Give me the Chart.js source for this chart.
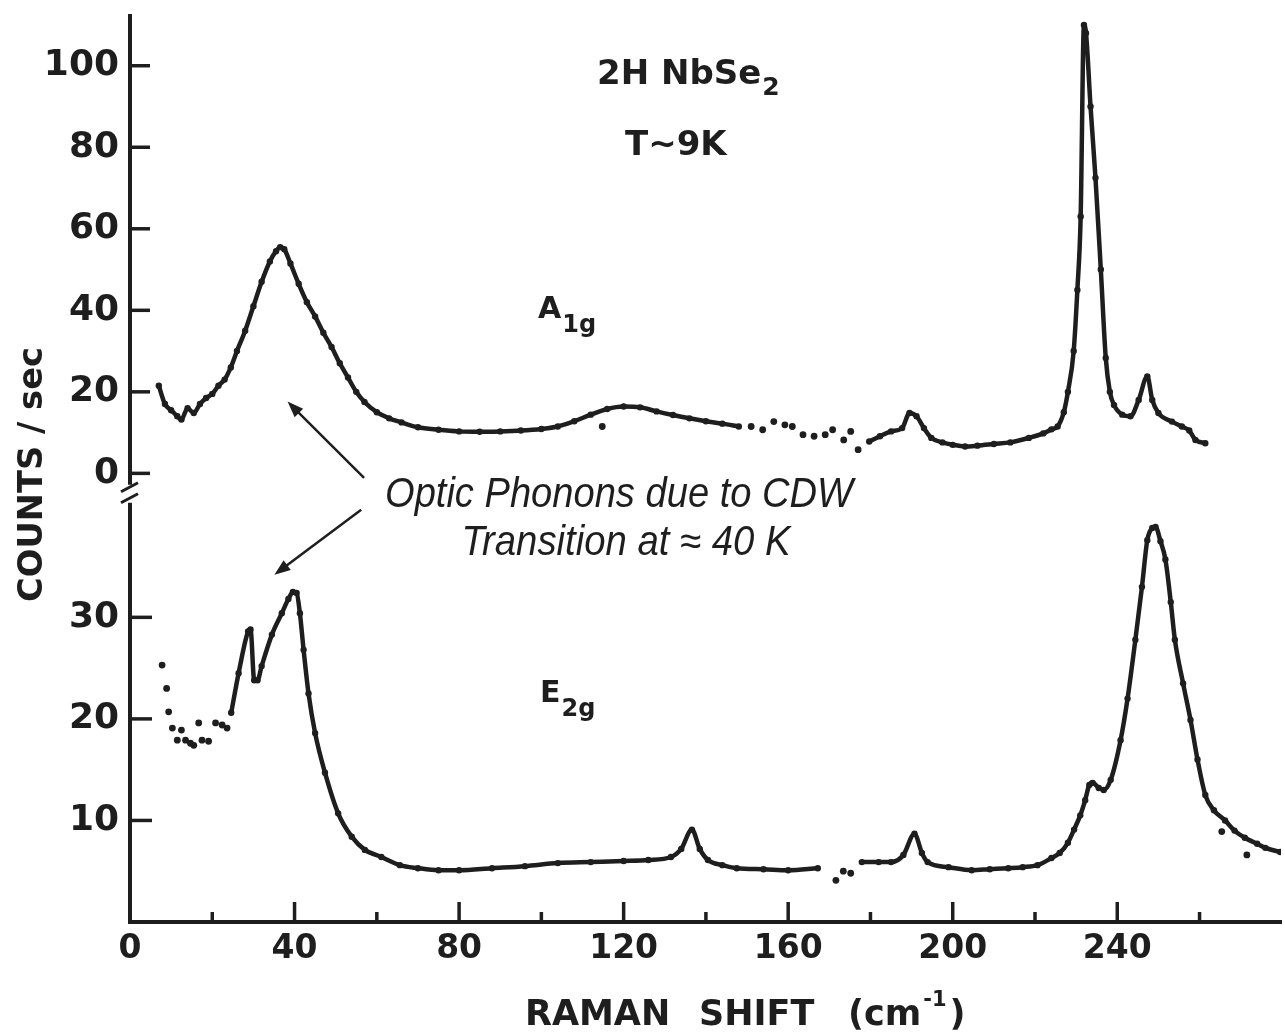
<!DOCTYPE html>
<html><head><meta charset="utf-8">
<script src="https://cdn.jsdelivr.net/npm/chart.js@4.4.1/dist/chart.umd.min.js"></script>
<style>html,body{margin:0;padding:0;background:#fff;overflow:hidden}#wrap{width:1285px;height:1034px;position:relative}</style>
</head><body><div id="wrap"><canvas id="c" width="1285" height="1034"></canvas></div>
<script>
// ---------- data ----------
const xTicks = [0,20,40,60,80,100,120,140,160,180,200,220,240,260];
const xLabelValues = [0,40,80,120,160,200,240];
const yTopTicks = [0,20,40,60,80,100];
const yBotTicks = [10,20,30];

// A1g spectrum (fitted line through data points); null = break in the trace
const a1gX = [7,8.5,10,11.5,12.5,14,15.5,17,18.5,20,21.5,23,24.5,26,28,30,32,34,35.5,36.5,37.5,39,41,43,45,47,49,51,53,55,57,60,63,66,70,75,80,85,90,95,100,104,108,112,116,120,124,128,132,136,140,144,148,
  150,
  179.7,182.3,185,187.7,189.5,191.2,193,194.8,197.5,200,203,206,210,214,218.5,222,224,225.5,227,228,229.4,230.3,231.1,231.9,232.4,233.5,234.7,236,237.2,238.2,239.2,241.2,243.2,245.2,247.3,248.5,250,253.3,255.7,257.5,259,261.4];
const a1gY = [21.5,17,15.5,14,13.2,16,14.8,17,18.5,19.5,21.5,23,26,30,35,41,47,52,54.5,55.5,55,51.5,46.5,42,38.5,34.5,31,27,23.5,20,17.5,15,13.5,12.5,11.3,10.7,10.3,10.2,10.3,10.5,10.9,11.5,12.8,14.4,15.8,16.4,16.2,15.2,14.3,13.5,12.8,12.2,11.5,
  null,
  7.8,9.1,10.3,11.1,14.8,14,11.1,8.7,7.6,7.0,6.6,6.8,7.2,7.6,8.7,9.8,10.8,11.5,15,20,30,45,63,110,108,90,72.5,50,28.3,20,16.8,14.4,14,18,23.8,18,14.8,12.7,11.5,10.5,8.2,7.4];
// A1g isolated data points
const a1gDotX = [114.8,151,153.8,156.5,159.2,161,163.6,166.3,169,170.8,173.5,175.2,177];
const a1gDotY = [11.5,11.5,10.7,12.7,11.9,11.5,9.5,9.1,9.5,10.7,8.2,10.3,5.8];

// E2g spectrum
const e2gX = [24.6,26.4,28.7,29.3,30.2,31,32,34.5,36.9,38.5,39.6,40.5,41.3,42.2,43.4,45,47.4,50.6,53.9,57.1,61.1,65.6,70,75,80,88,96,104,112,120,126,131.5,134,136.6,138.5,140.5,144,147.5,154,160,167.2,
  170,
  177.9,182,185,188,190.7,192.5,193.9,199,204.6,209,213.5,217,220.6,224,226,228,229.5,231,232.2,233.2,234,235.5,236.7,238.4,240.8,242.5,244.4,246,247.3,248.5,249.3,250.5,251.7,253,254,256,257.8,259.5,261.4,263.5,266.2,268.5,271,274,276,279.6];
const e2gY = [20.6,24.5,28.6,28.8,23.8,23.8,25.2,28.3,30.4,31.8,32.5,32.4,30.4,26.8,22.5,18.6,14.7,10.7,8.4,7.1,6.4,5.6,5.3,5.1,5.1,5.3,5.5,5.8,5.9,6.0,6.1,6.4,7.2,9.1,7.2,6.1,5.6,5.3,5.2,5.1,5.3,
  null,
  5.9,5.9,5.9,6.6,8.7,6.8,5.9,5.4,5.1,5.2,5.3,5.4,5.6,6.3,6.8,7.8,9.1,10.5,12,13.5,13.7,13.2,13,14,17.9,22,27.8,33,37.6,38.8,38.9,37.5,35.7,31.5,27.8,23.5,19.9,16,12.5,11,10,9,8.3,7.7,7.3,6.9];
const e2gDotX = [7.8,8.9,9.4,10.3,11.5,12.5,13.5,14.7,15.5,16.7,17.5,19.1,20.8,22.4,23.6,171.6,173.4,175.2,265.4,271.5];
const e2gDotY = [25.3,23,20.7,19.1,17.9,18.9,17.9,17.6,17.4,19.6,17.9,17.8,19.6,19.4,19.1,4.1,5.0,4.8,8.9,6.6];

// ---------- helpers ----------
const INK = '#1e1e1e';
const FONT = "'DejaVu Sans', 'Noto Sans', sans-serif";
const zip = (xs, ys) => xs.map((x, i) => ({x, y: ys[i]}));

// annotation arrows (tail -> head), in data units of the given y scale
const arrows = [
  {axis: 'yTop', from: [56.9, -1.1], to: [38.3, 17.6]},
  {axis: 'yBot', from: [56.2, 40.6], to: [35.1, 34.2]}
];

function seg(ctx, x1, y1, x2, y2) { ctx.beginPath(); ctx.moveTo(x1, y1); ctx.lineTo(x2, y2); ctx.stroke(); }

const decor = {
  id: 'decor',
  beforeDraw(chart) {
    const c = chart.ctx; c.save(); c.fillStyle = '#fff'; c.fillRect(0, 0, chart.width, chart.height); c.restore();
  },
  afterDraw(chart) {
    const ctx = chart.ctx, sx = chart.scales.x, yt = chart.scales.yTop, yb = chart.scales.yBot, ca = chart.chartArea;
    ctx.save();
    ctx.strokeStyle = INK; ctx.fillStyle = INK; ctx.lineCap = 'butt';
    // inward tick marks
    ctx.lineWidth = 3.5;
    for (const v of yTopTicks) { const p = yt.getPixelForValue(v); seg(ctx, ca.left, p, ca.left + 20, p); }
    for (const v of yBotTicks) { const p = yb.getPixelForValue(v); seg(ctx, ca.left, p, ca.left + 22, p); }
    for (const v of xTicks) {
      if (v === 0) continue;
      const p = sx.getPixelForValue(v), len = (v % 40 === 0) ? 20 : 10;
      seg(ctx, p, ca.bottom, p, ca.bottom - len);
    }
    // axis break
    const b = yt.bottom;
    ctx.fillStyle = '#fff'; ctx.fillRect(ca.left - 8, b - 10, 16, 18);
    ctx.fillStyle = INK; ctx.lineWidth = 3;
    seg(ctx, ca.left - 9, b - 3, ca.left + 8, b - 12);
    seg(ctx, ca.left - 9, b + 8, ca.left + 8, b - 1);

    // arrows
    ctx.lineWidth = 2.5;
    for (const a of arrows) {
      const ys = chart.scales[a.axis];
      const x1 = sx.getPixelForValue(a.from[0]), y1 = ys.getPixelForValue(a.from[1]);
      const x2 = sx.getPixelForValue(a.to[0]), y2 = ys.getPixelForValue(a.to[1]);
      const ang = Math.atan2(y2 - y1, x2 - x1), L = 16, W = 6;
      seg(ctx, x1, y1, x2 - Math.cos(ang) * L * 0.8, y2 - Math.sin(ang) * L * 0.8);
      ctx.beginPath();
      ctx.moveTo(x2, y2);
      ctx.lineTo(x2 - Math.cos(ang) * L - Math.sin(ang) * W, y2 - Math.sin(ang) * L + Math.cos(ang) * W);
      ctx.lineTo(x2 - Math.cos(ang) * L + Math.sin(ang) * W, y2 - Math.sin(ang) * L - Math.cos(ang) * W);
      ctx.closePath(); ctx.fill();
    }

    // texts
    ctx.textBaseline = 'alphabetic'; ctx.textAlign = 'left';
    ctx.font = 'bold 34px ' + FONT;
    ctx.fillText('2H NbSe', 597, 84);
    let w = ctx.measureText('2H NbSe').width;
    ctx.font = 'bold 25px ' + FONT; ctx.fillText('2', 597 + w + 1, 95);
    ctx.font = 'bold 34px ' + FONT; ctx.fillText('T~9K', 625, 155);
    // mode labels
    ctx.font = 'bold 30px ' + FONT; ctx.fillText('A', 538, 318);
    w = ctx.measureText('A').width;
    ctx.font = 'bold 24px ' + FONT; ctx.fillText('1g', 538 + w + 1, 332);
    ctx.font = 'bold 30px ' + FONT; ctx.fillText('E', 540, 702);
    w = ctx.measureText('E').width;
    ctx.font = 'bold 24px ' + FONT; ctx.fillText('2g', 540 + w + 1, 716);

    // annotation
    ctx.textAlign = 'center';
    ctx.font = "italic 42px 'Liberation Sans Narrow', 'Liberation Sans', Roboto, sans-serif";
    ctx.fillText('Optic Phonons due to CDW', 619, 507, 468);
    ctx.fillText('Transition at \u2248 40 K', 626, 555, 329);

    // axis titles
    ctx.textAlign = 'left';
    ctx.font = 'bold 35px ' + FONT;
    ctx.fillText('RAMAN', 525, 1025);
    ctx.fillText('SHIFT', 699, 1025);
    ctx.fillText('(cm', 848, 1025);
    w = ctx.measureText('(cm').width;
    ctx.font = 'bold 21px ' + FONT; ctx.fillText('-1', 848 + w + 2, 1006);
    const w2 = ctx.measureText('-1').width;
    ctx.font = 'bold 35px ' + FONT; ctx.fillText(')', 848 + w + w2 + 5, 1025);

    ctx.save();
    ctx.translate(42, 474.5); ctx.rotate(-Math.PI / 2);
    ctx.textAlign = 'center'; ctx.font = 'bold 34px ' + FONT;
    ctx.fillText('COUNTS / sec', 0, 0, 255);
    ctx.restore();

    ctx.restore();
  }
};

const yCommon = {
  type: 'linear', position: 'left', stack: 'y',
  grid: {display: false, drawTicks: false},
  border: {display: true, color: INK, width: 4},
  ticks: {color: INK, font: {family: FONT, size: 36, weight: 'bold'}, padding: 11, autoSkip: false},
  afterFit: s => { s.width = 130; s.paddingTop = 0; s.paddingBottom = 0; }
};

new Chart(document.getElementById('c'), {
  type: 'line',
  data: {
    datasets: [
      {label: 'A1g', yAxisID: 'yTop', data: zip(a1gX, a1gY), borderColor: INK, backgroundColor: INK, borderWidth: 4.5,
       pointRadius: 3.2, pointBackgroundColor: INK, pointBorderWidth: 0, tension: 0.4, cubicInterpolationMode: 'monotone', spanGaps: false},
      {label: 'A1g points', yAxisID: 'yTop', data: zip(a1gDotX, a1gDotY), showLine: false, pointRadius: 3.4,
       pointBackgroundColor: INK, pointBorderWidth: 0, borderColor: INK},
      {label: 'E2g', yAxisID: 'yBot', data: zip(e2gX, e2gY), borderColor: INK, backgroundColor: INK, borderWidth: 4.5,
       pointRadius: 3.2, pointBackgroundColor: INK, pointBorderWidth: 0, tension: 0.4, cubicInterpolationMode: 'monotone', spanGaps: false},
      {label: 'E2g points', yAxisID: 'yBot', data: zip(e2gDotX, e2gDotY), showLine: false, pointRadius: 3.4,
       pointBackgroundColor: INK, pointBorderWidth: 0, borderColor: INK}
    ]
  },
  options: {
    responsive: false, animation: false, devicePixelRatio: 1,
    layout: {padding: {top: 16, right: 0, bottom: 0, left: 0}},
    plugins: {legend: {display: false}, tooltip: {enabled: false}},
    scales: {
      x: {
        type: 'linear', min: 0, max: 279.8,
        grid: {display: false, drawTicks: false},
        border: {display: true, color: INK, width: 4},
        afterBuildTicks: s => { s.ticks = xTicks.map(v => ({value: v})); },
        ticks: {color: INK, font: {family: FONT, size: 33, weight: 'bold'}, padding: 8, autoSkip: false, maxRotation: 0,
                callback: v => xLabelValues.includes(v) ? String(v) : ''},
        afterFit: s => { s.height = 112; s.paddingLeft = 0; s.paddingRight = 0; }
      },
      yTop: Object.assign({}, yCommon, {
        weight: 1, stackWeight: 478.5, min: -5.25, max: 112.2,
        afterBuildTicks: s => { s.ticks = yTopTicks.map(v => ({value: v})); }
      }),
      yBot: Object.assign({}, yCommon, {
        weight: 0, stackWeight: 427, min: 0, max: 42.07,
        afterBuildTicks: s => { s.ticks = yBotTicks.map(v => ({value: v})); }
      })
    }
  },
  plugins: [decor]
});
</script>
</body></html>
